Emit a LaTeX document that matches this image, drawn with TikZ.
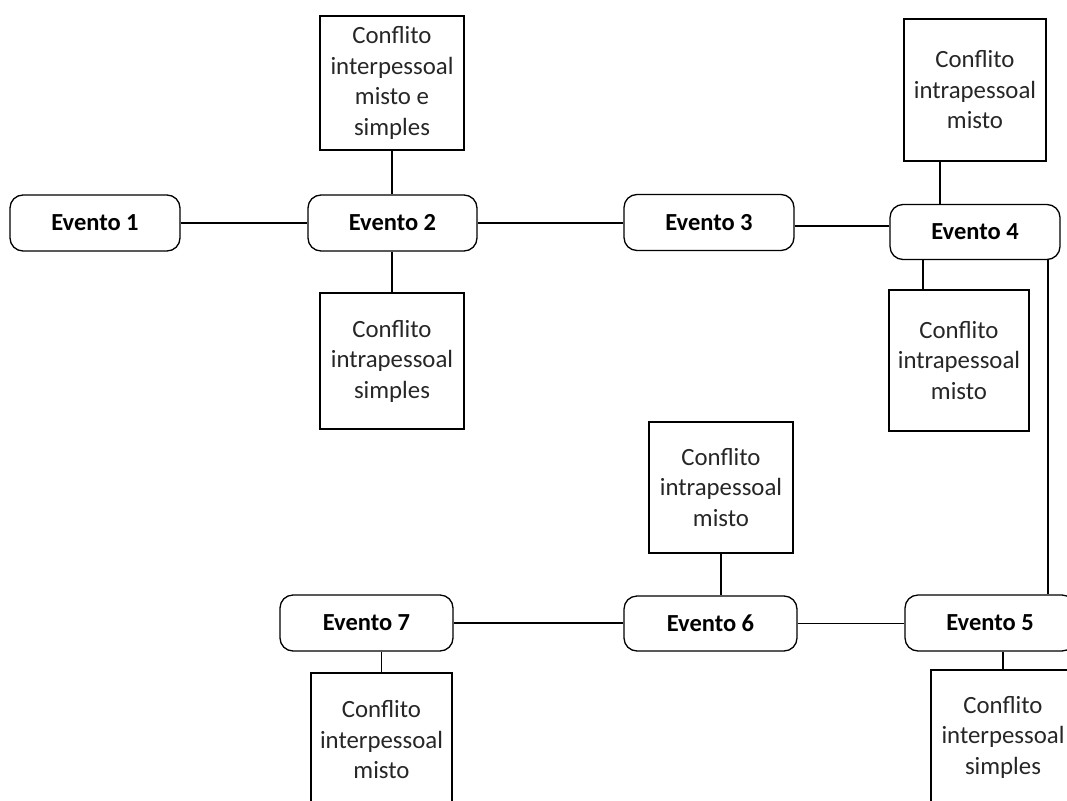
\documentclass[tikz,border=0pt]{standalone}
\usepackage{fontspec}
\setmainfont{Carlito}
\begin{document}
\begin{tikzpicture}[x=1pt,y=-1pt,
  ev/.style={draw=black,line width=1.3pt,rounded corners=13pt,inner sep=0pt,
    minimum width=170pt,minimum height=56pt,font=\fontsize{24.5}{30}\selectfont\bfseries},
  cf/.style={draw=black,line width=1.3pt,inner sep=0pt,align=center,text=black!85,
    minimum width=144pt,minimum height=134pt,font=\fontsize{24.8}{30.5}\selectfont},
  ln/.style={line width=1.3pt,draw=black}]
\useasboundingbox (0,0) rectangle (1067,800);
\clip (0,0) rectangle (1067,800);
% events
\node[ev] (e1) at (95,223) {Evento 1};
\node[ev,minimum width=169pt] (e2) at (392.5,223) {Evento 2};
\node[ev] (e3) at (709,222.5) {Evento 3};
\node[ev,minimum height=55pt] (e4) at (975,232) {Evento 4};
\node[ev] (e5) at (990,623) {Evento 5};
\node[ev,minimum width=173pt,minimum height=55pt] (e6) at (710.5,623.5) {Evento 6};
\node[ev,minimum width=173pt] (e7) at (366.5,623) {Evento 7};
% conflict boxes
\node[cf] (c2t) at (392,83) {Conflito\\interpessoal\\misto e\\simples};
\node[cf,minimum height=136pt] (c2b) at (392,361) {Conflito\\intrapessoal\\simples};
\node[cf,minimum width=142pt,minimum height=142pt] (c4t) at (975,90) {Conflito\\intrapessoal\\misto};
\node[cf,minimum width=140pt,minimum height=141pt] (c4b) at (959,360.5) {Conflito\\intrapessoal\\misto};
\node[cf,minimum height=131pt] (c6t) at (721,487.5) {Conflito\\intrapessoal\\misto};
\node[cf] (c5b) at (1003,737) {Conflito\\interpessoal\\simples};
\node[cf,minimum width=141pt] (c7b) at (381.5,740) {Conflito\\interpessoal\\misto};
% connectors
\draw[ln] (e1.east) -- (e1.east -| e2.west);
\draw[ln] (e2.east) -- (e2.east -| e3.west);
\draw[ln] ([yshift=-3.5pt]e3.east) -- ([yshift=-3.5pt]e3.east -| e4.west);
\draw[ln] (c2t.south) -- (c2t.south |- e2.north);
\draw[ln] (c2b.north |- e2.south) -- (c2b.north);
\draw[ln] ([xshift=-35pt]c4t.south) -- ([xshift=-35pt]c4t.south |- e4.north);
\draw[ln] ([xshift=-36pt]c4b.north |- e4.south) -- ([xshift=-36pt]c4b.north);
\draw[ln] ([xshift=73pt]e4.south) -- ([xshift=73pt]e4.south |- e5.north);
\draw[ln] (c6t.south) -- (c6t.south |- e6.north);
\draw[ln] (e6.east) -- (e6.east -| e5.west);
\draw[ln] (e7.east) -- (e7.east -| e6.west);
\draw[ln] (c5b.north |- e5.south) -- (c5b.north);
\draw[ln] (c7b.north |- e7.south) -- (c7b.north);
\end{tikzpicture}
\end{document}
